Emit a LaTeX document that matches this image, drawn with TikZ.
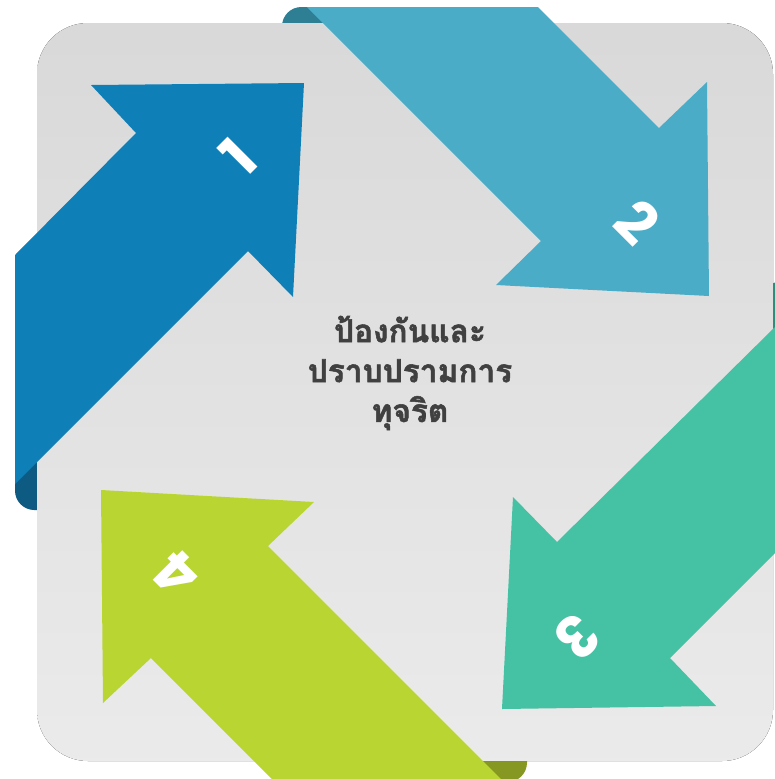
\documentclass[tikz,border=0pt]{standalone}
\usepackage{fontspec}
\newfontfamily\thaifont[Script=Thai,BoldFeatures={FakeBold=1.6}]{Loma}
\newfontfamily\numfont{Poppins}
\definecolor{arrowone}{RGB}{15,127,183}
\definecolor{arrowtwo}{RGB}{74,172,198}
\definecolor{arrowthree}{RGB}{69,193,164}
\definecolor{arrowfour}{RGB}{185,213,50}
\definecolor{foldone}{RGB}{13,90,130}
\definecolor{foldtwo}{RGB}{46,127,148}
\definecolor{foldthree}{RGB}{42,143,120}
\definecolor{foldfour}{RGB}{134,151,34}
\definecolor{titlegray}{RGB}{64,64,64}
\begin{document}
\begin{tikzpicture}[x=0.02cm,y=-0.02cm]
	\tikzset{every node/.style={inner sep=0pt},
		num/.style={text=white,font=\numfont\bfseries\fontsize{33}{33}\selectfont},
		fold/.style={rounded corners=11pt}}
	\useasboundingbox (0,0) rectangle (775,779);
	\clip (0,0) rectangle (775,779);
	% folded ends behind the panel
	\fill[foldone,fold] (15,430) rectangle (60,510);
	\fill[foldtwo,fold] (282,7) rectangle (330,50);
	\fill[foldthree,fold] (760,282) rectangle (800,360);
	\fill[foldfour,fold] (460,740) rectangle (527,782);
	% panel
	\fill[top color=black!15,bottom color=black!8,rounded corners=29pt] (37,23) rectangle (773,761);
	% arrows
	\fill[arrowone] (15,255)--(136,133)--(91,85)--(304,83)--(293,297)--(248,251)--(15,484)--cycle;
	\fill[arrowtwo] (307,7)--(541,241)--(496,285)--(709,296)--(707,82)--(659,128)--(538,7)--cycle;
	\fill[arrowthree] (775,327)--(557,542)--(513,497)--(502,709)--(716,706)--(670,658)--(775,553)--cycle;
	\fill[arrowfour] (101,490)--(314,502)--(268,546)--(501,779)--(272,779)--(151,658)--(103,703)--cycle;
	% numbers
	\node[num,rotate=45] (one) at (238,157) {1};
	\node[num,rotate=-45] (two) at (637,222) {2};
	\node[num,rotate=-135] (three) at (577,637) {3};
	\node[num,rotate=135] (four) at (177,574) {4};
	% title
	\node[align=center,text=titlegray,font=\thaifont\bfseries\fontsize{18}{22.7}\selectfont] (title) at (410,373)
		{ป้องกันและ\\ปราบปรามการ\\ทุจริต};
\end{tikzpicture}
\end{document}
